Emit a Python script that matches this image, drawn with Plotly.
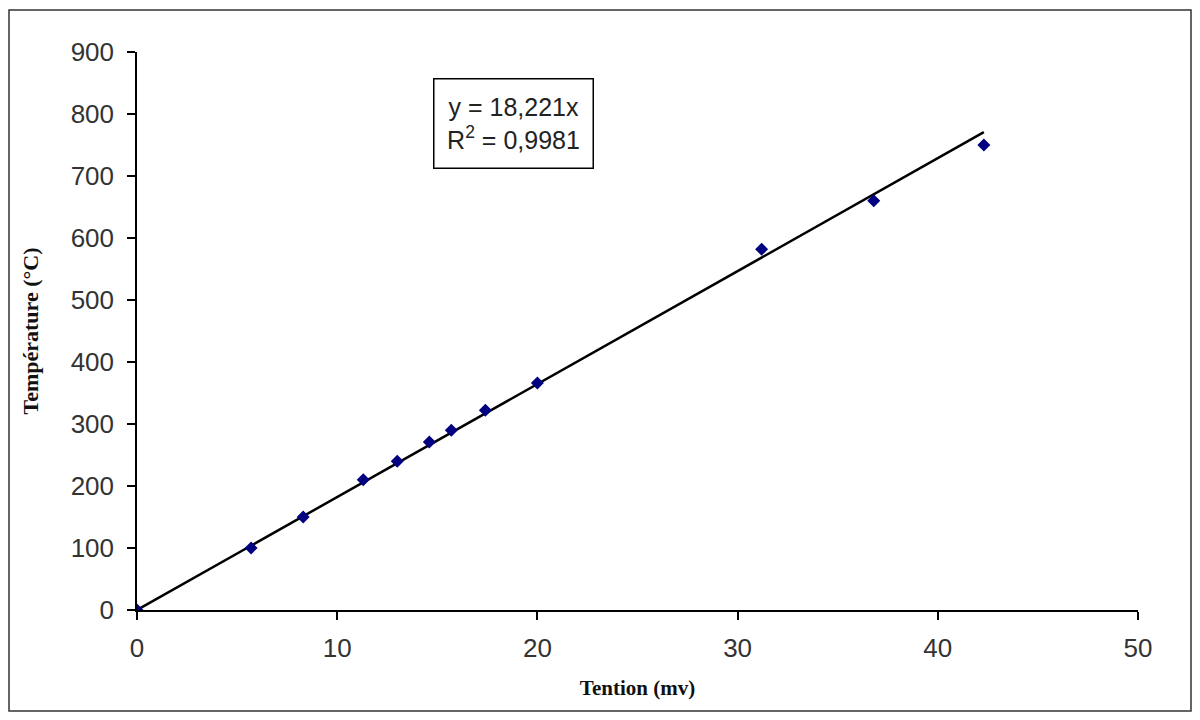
import plotly.graph_objects as go

# Data
tension_mv = [0, 5.7, 8.3, 11.3, 13.0, 14.6, 15.7, 17.4, 20.0, 31.2, 36.8, 42.3]
temperature_c = [0, 100, 150, 210, 240, 271, 290, 322, 366, 582, 660, 750]
slope = 18.221
r2_text = "0,9981"
x_ticks = [0, 10, 20, 30, 40, 50]
y_ticks = [0, 100, 200, 300, 400, 500, 600, 700, 800, 900]

trend_x = [0, max(tension_mv)]
trend_y = [slope * v for v in trend_x]

# figure is offset by the page's 8px body margin; compensate
W, H = 1184, 704
L, R, T, B = 129, 54, 44, 102
PW, PH = W - L - R, H - T - B

fig = go.Figure()
fig.add_trace(go.Scatter(
    x=trend_x, y=trend_y, mode="lines",
    line=dict(color="black", width=2.5), showlegend=False, hoverinfo="skip"))
fig.add_trace(go.Scatter(
    x=tension_mv, y=temperature_c, mode="markers",
    marker=dict(symbol="diamond", color="#000080", size=10),
    showlegend=False))

tick_font = dict(family="Liberation Sans, Arial", size=26, color="#333")
fig.update_layout(
    width=W, height=H,
    margin=dict(l=L, r=R, t=T, b=B),
    paper_bgcolor="white", plot_bgcolor="white",
    font=dict(family="Liberation Sans, Arial", size=26, color="#333"),
    xaxis=dict(range=[0, 50], tickvals=x_ticks, showgrid=False, zeroline=False,
               showline=True, linecolor="black", linewidth=1.5,
               ticks="outside", ticklen=8, tickcolor="black", tickwidth=1.5,
               tickfont=tick_font, ticklabelstandoff=6,
               title=dict(text="<b>Tention (mv)</b>", standoff=18,
                          font=dict(family="Liberation Serif, Times New Roman", size=21, color="#111"))),
    yaxis=dict(range=[0, 900], tickvals=y_ticks, showgrid=False, zeroline=False,
               showline=True, linecolor="black", linewidth=1.5,
               ticks="outside", ticklen=8, tickcolor="black", tickwidth=1.5,
               tickfont=tick_font, ticklabelstandoff=8,
               title=dict(text="<b>Température (°C)</b>", standoff=26,
                          font=dict(family="Liberation Serif, Times New Roman", size=22, color="#111"))),
    shapes=[dict(type="rect", xref="paper", yref="paper",
                 x0=(1 - L) / PW, x1=(1183 - L) / PW,
                 y0=(H - B - 703) / PH, y1=(H - B - 2) / PH,
                 line=dict(color="#333", width=1.5), fillcolor="rgba(0,0,0,0)")],
    annotations=[dict(
        x=18.83, y=784, xref="x", yref="y",
        text=f"y = {str(slope).replace('.', ',')}x<br>R<sup>2</sup> = {r2_text}",
        showarrow=False, align="center",
        font=dict(family="Liberation Sans, Arial", size=25, color="#222"),
        bordercolor="black", borderwidth=1.5, borderpad=4,
        bgcolor="white", width=150, height=80)],
)

fig.write_html("out.html")
